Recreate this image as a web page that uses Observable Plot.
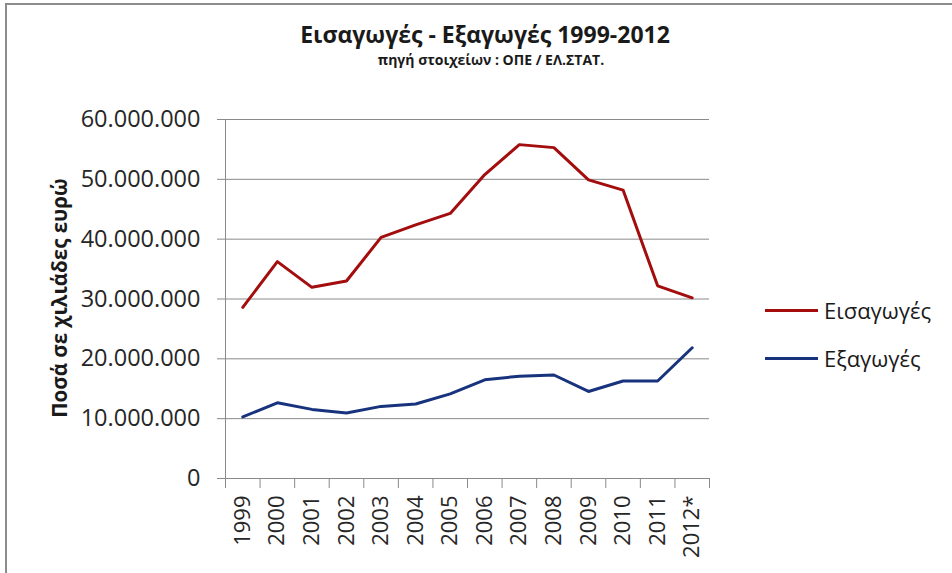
<!DOCTYPE html>
<html><head><meta charset="utf-8">
<script src="https://cdn.jsdelivr.net/npm/d3@7"></script>
<script src="https://cdn.jsdelivr.net/npm/@observablehq/plot@0.6"></script>
<style>
body{margin:0;background:#fff;}
#wrap{position:relative;width:952px;height:573px;overflow:hidden;font-family:"Open Sans",sans-serif;color:#1a1a1a;background:#fff;}
#chart{position:absolute;left:0;top:0;}
.bt{position:absolute;left:5px;top:3px;width:960px;height:2px;background:#8c8c8c;}
.bl{position:absolute;left:5px;top:3px;width:2px;height:580px;background:#8c8c8c;}
#title{position:absolute;left:485px;top:23px;transform:translateX(-50%);white-space:nowrap;font-weight:700;font-size:23px;line-height:1;}
#sub{position:absolute;left:491px;top:53px;transform:translateX(-50%);white-space:nowrap;font-weight:700;font-size:14px;line-height:1;}
#ylab{position:absolute;left:59px;top:298px;transform:translate(-50%,-50%) rotate(-90deg);white-space:nowrap;font-weight:700;font-size:20.5px;line-height:1;}
.li{position:absolute;left:765px;height:24px;display:flex;align-items:center;white-space:nowrap;font-size:22px;}
.li span.sw{display:inline-block;width:53px;height:3px;margin-right:6px;}
</style></head><body>
<div id="wrap">
  <div id="chart"></div>
  <div class="bt"></div><div class="bl"></div>
  <div id="title">Εισαγωγές - Εξαγωγές 1999-2012</div>
  <div id="sub">πηγή στοιχείων : ΟΠΕ / ΕΛ.ΣΤΑΤ.</div>
  <div id="ylab">Ποσά σε χιλιάδες ευρώ</div>
  <div id="legend"></div>
</div>
<script>
const years = ["1999","2000","2001","2002","2003","2004","2005","2006","2007","2008","2009","2010","2011","2012*"];
const imports = [28600000,36250000,31950000,33000000,40300000,42400000,44300000,50800000,55800000,55300000,49900000,48200000,32200000,30200000];
const exportsV = [10300000,12650000,11550000,10950000,12050000,12450000,14150000,16500000,17100000,17300000,14550000,16300000,16300000,21850000];
const series = ["Εισαγωγές","Εξαγωγές"];
const colors = ["#a30d0d","#17337d"];
const yTicks = [0,10000000,20000000,30000000,40000000,50000000,60000000];

const idx = years.map((_, i) => i);
const bounds = years.map((_, i) => i - 0.5).concat([years.length - 0.5]);
const rows = [];
years.forEach((y, i) => {
  rows.push({i, v: imports[i], s: series[0]});
  rows.push({i, v: exportsV[i], s: series[1]});
});
const fmt = d => d3.format(",")(d).replace(/,/g, ".");
const gray = "#8a8a8a";

const chart = Plot.plot({
  width: 952, height: 573,
  marginTop: 119, marginBottom: 95, marginLeft: 225, marginRight: 243,
  style: {fontFamily: "'Open Sans', sans-serif", background: "transparent", color: "#262626", overflow: "visible"},
  x: {type: "linear", domain: [bounds[0], bounds[bounds.length - 1]]},
  y: {domain: [yTicks[0], yTicks[yTicks.length - 1]]},
  color: {domain: series, range: colors},
  marks: [
    Plot.gridY(yTicks, {stroke: gray, strokeOpacity: 1}),
    Plot.ruleX([bounds[0]], {stroke: gray}),
    Plot.ruleY([yTicks[0]], {stroke: gray}),
    Plot.axisY(yTicks, {tickSize: 8, tickPadding: 17, tickFormat: fmt, fontSize: 23.5, stroke: gray, fill: "#262626", label: null}),
    Plot.axisX(bounds, {tickSize: 10, text: null, stroke: gray, label: null}),
    Plot.axisX(idx, {tickSize: 0, tickPadding: 17, tickRotate: -90, tickFormat: i => years[i], fontSize: 22, fill: "#262626", label: null}),
    Plot.line(rows, {x: "i", y: "v", z: "s", stroke: "s", strokeWidth: 3, strokeLinejoin: "round"})
  ]
});
document.getElementById("chart").appendChild(chart);

const legend = document.getElementById("legend");
const legendTops = [298, 346];
series.forEach((s, k) => {
  const d = document.createElement("div");
  d.className = "li";
  d.style.top = legendTops[k] + "px";
  d.innerHTML = `<span class="sw" style="background:${colors[k]}"></span><span>${s}</span>`;
  legend.appendChild(d);
});
</script>
</body></html>
